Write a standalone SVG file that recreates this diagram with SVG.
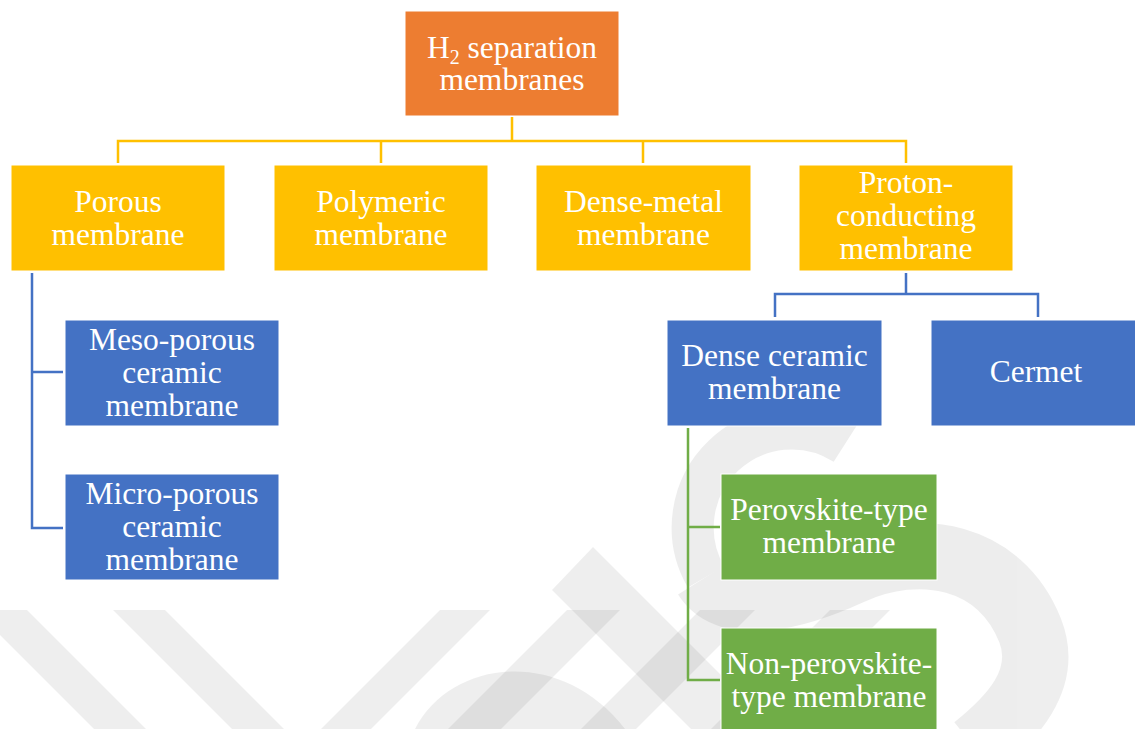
<svg xmlns="http://www.w3.org/2000/svg" width="1135" height="729" viewBox="0 0 1135 729">
<style>
.t{font-family:"Liberation Serif","Times New Roman",serif;font-size:31.5px;fill:#fff;text-anchor:middle}
.org{fill:#ED7D31;stroke:#fff;stroke-width:1}
.yel{fill:#FFC000;stroke:#fff;stroke-width:1}
.blu{fill:#4472C4;stroke:#fff;stroke-width:1}
.grn{fill:#70AD47;stroke:#fff;stroke-width:1}
.wm{fill:#000;fill-opacity:0.065}
.cy{fill:none;stroke:#FFC000;stroke-width:2.5}
.cb{fill:none;stroke:#4472C4;stroke-width:2.5}
.cg{fill:none;stroke:#70AD47;stroke-width:2.5}
</style>
<rect width="1135" height="729" fill="#fff"/>
<g id="watermark">
<polygon class="wm" points="-25,610 27,610 146,729 94,729"/>
<polygon class="wm" points="113,610 165,610 284,729 232,729"/>
<polygon class="wm" points="440,610 490,610 371,729 321,729"/>
<polygon class="wm" points="567,610 620,610 501,729 448,729"/>
<polygon class="wm" points="700,610 755,610 636,729 581,729"/>
<polygon class="wm" points="830,610 890,610 771,729 711,729"/>
<polygon class="wm" points="552,590 593,547 775,729 691,729"/>
<path class="wm" d="M415,729 C450,660 560,645 625,729 Z"/>
<g opacity="0.065">
<path d="M845,444 A99,99 0 0 0 706,577" fill="none" stroke="#000" stroke-width="42"/>
<path d="M706,577 C730,615 800,595 850,572 C920,540 1000,555 1030,630 C1050,680 1010,720 975,748" fill="none" stroke="#000" stroke-width="66"/>
</g>
</g>
<g id="connectors">
<path class="cy" d="M512,117 V141 M118,163 V141 H906 V163 M381,141 V163 M643,141 V163"/>
<path class="cb" d="M32,273 V528 H63 M32,372 H63"/>
<path class="cb" d="M906,273 V294 M775,317 V294 H1038 V317"/>
<path class="cg" d="M688,428 V680 H720 M688,527 H720"/>
</g>
<g id="n-root"><rect class="org" x="405" y="11" width="214" height="105"/>
<text class="t" x="512" y="58">H<tspan font-size="20" baseline-shift="-6">2</tspan> separation</text>
<text class="t" x="512" y="90">membranes</text></g>
<g id="n-porous"><rect class="yel" x="11" y="165" width="214" height="106"/>
<text class="t" x="118" y="212">Porous</text><text class="t" x="118" y="245">membrane</text></g>
<g id="n-polymeric"><rect class="yel" x="274" y="165" width="214" height="106"/>
<text class="t" x="381" y="212">Polymeric</text><text class="t" x="381" y="245">membrane</text></g>
<g id="n-densemetal"><rect class="yel" x="536" y="165" width="215" height="106"/>
<text class="t" x="643.5" y="212">Dense-metal</text><text class="t" x="643.5" y="245">membrane</text></g>
<g id="n-proton"><rect class="yel" x="799" y="165" width="214" height="106"/>
<text class="t" x="906" y="193">Proton-</text><text class="t" x="906" y="226">conducting</text><text class="t" x="906" y="259">membrane</text></g>
<g id="n-meso"><rect class="blu" x="65" y="320" width="214" height="106"/>
<text class="t" x="172" y="350">Meso-porous</text><text class="t" x="172" y="383">ceramic</text><text class="t" x="172" y="416">membrane</text></g>
<g id="n-micro"><rect class="blu" x="65" y="474" width="214" height="106"/>
<text class="t" x="172" y="504">Micro-porous</text><text class="t" x="172" y="537">ceramic</text><text class="t" x="172" y="570">membrane</text></g>
<g id="n-denseceramic"><rect class="blu" x="667" y="320" width="215" height="106"/>
<text class="t" x="774.5" y="366">Dense ceramic</text><text class="t" x="774.5" y="399">membrane</text></g>
<g id="n-cermet"><rect class="blu" x="931" y="320" width="214" height="106"/>
<text class="t" x="1036" y="382">Cermet</text></g>
<g id="n-perovskite"><rect class="grn" x="721" y="474" width="216" height="106"/>
<text class="t" x="829" y="520">Perovskite-type</text><text class="t" x="829" y="553">membrane</text></g>
<g id="n-nonperovskite"><rect class="grn" x="721" y="628" width="216" height="106"/>
<text class="t" x="829" y="674">Non-perovskite-</text><text class="t" x="829" y="707">type membrane</text></g>
</svg>
